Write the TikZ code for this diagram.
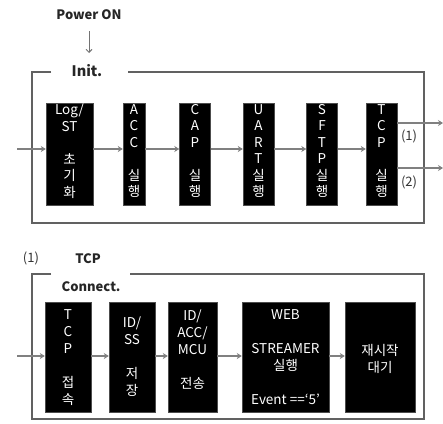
\documentclass[tikz,border=0pt]{standalone}
\usepackage{fontspec}
\setmainfont{Noto Sans CJK KR}
\usetikzlibrary{arrows.meta}
\begin{document}
\begin{tikzpicture}[x=1pt,y=-1pt,
  frame/.style={draw=black!62, line width=2.4pt},
  blk/.style={fill=black, draw=black!70, line width=0.4pt, inner sep=0pt},
  btxt/.style={text=white, align=center, inner sep=0pt, font=\fontsize{13.5}{16.5}\selectfont},
  btxtb/.style={text=white, align=center, inner sep=0pt, font=\fontsize{13.5}{17}\selectfont},
  flow/.style={draw=black!50, line width=1.3pt, -{Stealth[length=5pt,width=6pt]}},
  lbl/.style={inner sep=0pt, text=black!85, font=\bfseries\fontsize{13}{15}\selectfont},
  num/.style={inner sep=0pt, text=black!80, font=\fontsize{13}{15}\selectfont}
]
\useasboundingbox[fill=white] (0,0) rectangle (443,423);

% ---------- top section ----------
\node[lbl] (pwr) at (89,15) {Power ON};
\coordinate (pwrend) at (89,53);
\draw[draw=black!55, line width=0.9pt, -{Straight Barb[length=3pt,width=6pt]}] (89,31) -- (pwrend);

\draw[frame] (51,72) -- (32,72) -- (32,223) -- (424,223) -- (424,72) -- (128,72);
\node[lbl, font=\bfseries\fontsize{14.5}{16}\selectfont] (init) at (87,71) {Init.};

\node[blk, minimum width=47pt, minimum height=102pt] (t1) at (69.5,154) {};
\node[blk, minimum width=22pt, minimum height=102pt] (t2) at (134,154) {};
\node[blk, minimum width=31pt, minimum height=102pt] (t3) at (195,154) {};
\node[blk, minimum width=31pt, minimum height=102pt] (t4) at (258.5,154) {};
\node[blk, minimum width=31pt, minimum height=102pt] (t5) at (322,154) {};
\node[blk, minimum width=31pt, minimum height=102pt] (t6) at (381.5,154) {};

\node[btxt] (t1t) at (69.5,151) {Log/\\ST\\~\\초\\기\\화};
\node[btxt] (t2t) at (134,151) {A\\C\\C\\~\\실\\행};
\node[btxt] (t3t) at (195,151) {C\\A\\P\\~\\실\\행};
\node[btxt] (t4t) at (258.5,151) {U\\A\\R\\T\\실\\행};
\node[btxt] (t5t) at (322,151) {S\\F\\T\\P\\실\\행};
\node[btxt] (t6t) at (381.5,151) {T\\C\\P\\~\\실\\행};

\coordinate (tin) at (17,149);
\draw[flow] (tin) -- (t1.west |- tin);
\draw[flow] (t1.east |- tin) -- (t2.west |- tin);
\draw[flow] (t2.east |- tin) -- (t3.west |- tin);
\draw[flow] (t3.east |- tin) -- (t4.west |- tin);
\draw[flow] (t4.east |- tin) -- (t5.west |- tin);
\draw[flow] (t5.east |- tin) -- (t6.west |- tin);

\coordinate (out1) at (443,123);
\coordinate (out2) at (443,168);
\draw[flow] (t6.east |- out1) -- (out1);
\draw[flow] (t6.east |- out2) -- (out2);
\node[num] (n1) at (409,136) {(1)};
\node[num] (n2) at (409,182) {(2)};

% ---------- bottom section ----------
\node[num] (m1) at (31,258) {(1)};
\node[lbl] (tcp) at (88,259) {TCP};

\draw[frame] (51,274) -- (32,274) -- (32,419) -- (424,419) -- (424,274) -- (130,274);
\node[lbl] (conn) at (91,287) {Connect.};

\node[blk, minimum width=46pt, minimum height=110pt] (b1) at (68,357) {};
\node[blk, minimum width=46pt, minimum height=110pt] (b2) at (132,357) {};
\node[blk, minimum width=49pt, minimum height=110pt] (b3) at (192.5,357) {};
\node[blk, minimum width=87pt, minimum height=110pt] (b4) at (285.5,357) {};
\node[blk, minimum width=70pt, minimum height=110pt] (b5) at (380,357) {};

\node[btxtb] (b1t) at (68,357.5) {T\\C\\P\\~\\접\\속};
\node[btxtb] (b2t) at (132,357) {ID/\\SS\\~\\저\\장};
\node[btxtb] (b3t) at (192.5,357.5) {ID/\\ACC/\\MCU\\~\\전송\\~};
\node[btxtb] (b4t) at (285.5,357.5) {WEB\\~\\STREAMER\\실행\\~\\Event ==‘5’};
\node[btxtb] (b5t) at (380,358.5) {재시작\\대기};

\coordinate (bin) at (17,356);
\draw[flow] (bin) -- (b1.west |- bin);
\draw[flow] (b1.east |- bin) -- (b2.west |- bin);
\draw[flow] (b2.east |- bin) -- (b3.west |- bin);
\draw[flow] (b3.east |- bin) -- (b4.west |- bin);
\draw[flow] (b4.east |- bin) -- (b5.west |- bin);
\end{tikzpicture}
\end{document}
